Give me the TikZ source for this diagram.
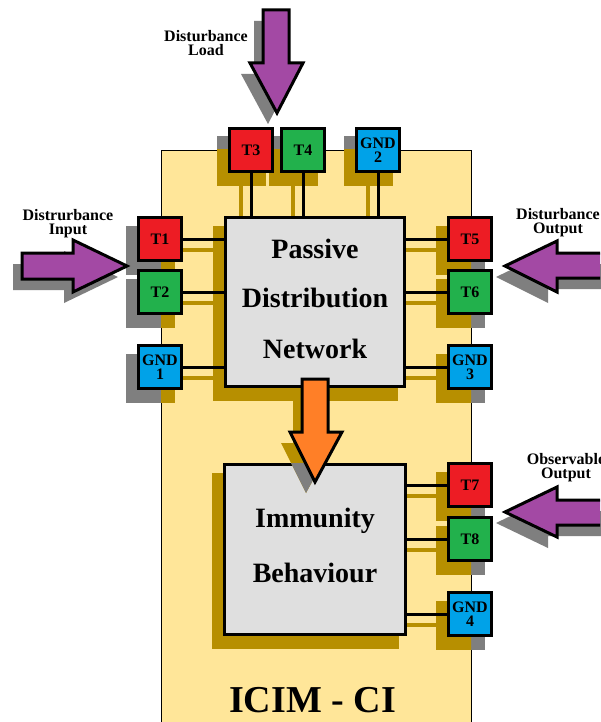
\documentclass[tikz,border=0pt]{standalone}
\usepackage{fontspec}
\setmainfont{Liberation Serif}
\usetikzlibrary{calc}
\pgfdeclarelayer{bg}\pgfdeclarelayer{shd}\pgfdeclarelayer{boxes}\pgfdeclarelayer{shdtwo}
\pgfsetlayers{bg,shd,boxes,shdtwo,main}
\definecolor{ybg}{HTML}{FFE699}
\definecolor{shgold}{HTML}{B78F00}
\definecolor{shgray}{HTML}{7F7F7F}
\definecolor{boxgray}{HTML}{DFDFDF}
\definecolor{tred}{HTML}{ED1C24}
\definecolor{tgreen}{HTML}{22B14C}
\definecolor{tblue}{HTML}{00A2E8}
\definecolor{apurple}{HTML}{A349A4}
\definecolor{aorange}{HTML}{FF7F27}
\begin{document}
\begin{tikzpicture}[x=1pt,y=-1pt,
  term/.style={draw=black, line width=3pt, minimum size=43pt, inner sep=0pt,
    font=\fontsize{16}{14}\selectfont\bfseries, align=center},
  bigbox/.style={draw=black, line width=3pt, fill=boxgray, inner sep=0pt},
  conn/.style={black, line width=3pt},
  connshd/.style={shgold, line width=4pt},
  bigtxt/.style={font=\fontsize{28}{34}\selectfont\bfseries, anchor=base, inner sep=0pt},
  lbl/.style={font=\fontsize{16}{14}\selectfont\bfseries, align=center, inner sep=0pt},
  arrowline/.style={draw=black, line width=3pt, line join=miter},
  ldarrow/.pic={\path[pic actions] (263,10) -- (289,10) -- (289,63) -- (303,63) -- (277,113) -- (250,63) -- (263,63) -- cycle;},
  inarrow/.pic={\path[pic actions] (22,253) -- (73,253) -- (73,240) -- (127,266) -- (73,292) -- (73,279) -- (22,279) -- cycle;},
  outarrow/.pic={\path[pic actions] (630,253) -- (557,253) -- (557,241) -- (505,266) -- (557,292) -- (557,278) -- (630,278) -- cycle;},
  obsarrow/.pic={\path[pic actions] (630,500) -- (557,500) -- (557,487) -- (505,512) -- (557,537) -- (557,525) -- (630,525) -- cycle;},
  orarrow/.pic={\path[pic actions] (302,379) -- (328,379) -- (328,432) -- (342,432) -- (315,482) -- (290,432) -- (302,432) -- cycle;}
]
\useasboundingbox (0,0) rectangle (600,722);
\clip (0,0) rectangle (600,722);
\begin{pgfonlayer}{bg}
  \fill[white] (0,0) rectangle (600,722);
  \fill[ybg, draw=black, line width=0.8pt] (161,150) rectangle (471,760);
\end{pgfonlayer}

% big boxes
\begin{pgfonlayer}{boxes}
  \node[bigbox, minimum width=179pt, minimum height=169pt] (PDN) at (315,302) {};
  \node[bigbox, minimum width=181pt, minimum height=170pt] (IB) at (315,549.5) {};
\end{pgfonlayer}

% terminals
\node[term, fill=tred]   (T1) at (160,239) {T1};
\node[term, fill=tgreen] (T2) at (160,292) {T2};
\node[term, fill=tblue]  (GND1) at (160,367) {GND\\1};
\node[term, fill=tred]   (T3) at (251,150) {T3};
\node[term, fill=tgreen] (T4) at (303,150) {T4};
\node[term, fill=tblue]  (GND2) at (378,150) {GND\\2};
\node[term, fill=tred]   (T5) at (470,239) {T5};
\node[term, fill=tgreen] (T6) at (470,292) {T6};
\node[term, fill=tblue]  (GND3) at (470,367) {GND\\3};
\node[term, fill=tred]   (T7) at (470,485) {T7};
\node[term, fill=tgreen] (T8) at (470,539) {T8};
\node[term, fill=tblue]  (GND4) at (470,614) {GND\\4};

% shadows
\begin{pgfonlayer}{shd}
  \foreach \n in {T1,T2,GND1,T3,T4,GND2,T5,T6,GND3,T7,T8,GND4,PDN,IB}{
    \filldraw[shgray, line width=3pt] ($(\n.south west)+(-10,11)$) rectangle ($(\n.north east)+(-10,11)$);
  }
  \begin{scope}
    \clip (161,150) rectangle (471,760);
    \foreach \n in {T1,T2,GND1,T3,T4,GND2,T5,T6,GND3,T7,T8,GND4,PDN,IB}{
      \filldraw[shgold, line width=3pt] ($(\n.south west)+(-10,11)$) rectangle ($(\n.north east)+(-10,11)$);
    }
  \end{scope}
  \foreach \n in {T1,T2,GND1}{
    \draw[connshd] ($(\n.east)+(-10,11)$) -- ($(\n.east -| PDN.west)+(-10,11)$);
  }
  \foreach \n in {T5,T6,GND3}{
    \draw[connshd] ($(\n.west)+(-10,11)$) -- ($(\n.west -| PDN.east)+(-10,11)$);
  }
  \foreach \n in {T3,T4,GND2}{
    \draw[connshd] ($(\n.south)+(-10,11)$) -- ($(\n.south |- PDN.north)+(-10,11)$);
  }
  \foreach \n in {T7,T8,GND4}{
    \draw[connshd] ($(\n.west)+(-10,11)$) -- ($(\n.west -| IB.east)+(-10,11)$);
  }
  \pic[fill=shgray] at (-9,11) {ldarrow};
  \pic[fill=shgray] at (-9,11) {inarrow};
  \pic[fill=shgray] at (-9,11) {outarrow};
  \pic[fill=shgray] at (-9,11) {obsarrow};
\end{pgfonlayer}

\begin{pgfonlayer}{shdtwo}
  \begin{scope}
    \clip (0,391) rectangle (600,722);
    \pic[fill=shgold] at (-9,11) {orarrow};
    \clip (IB.south west) rectangle (IB.north east);
    \pic[fill=shgray] at (-9,11) {orarrow};
  \end{scope}
\end{pgfonlayer}

% connectors
\foreach \n in {T1,T2,GND1}{ \draw[conn] (\n.east) -- (\n.east -| PDN.west); }
\foreach \n in {T5,T6,GND3}{ \draw[conn] (\n.west) -- (\n.west -| PDN.east); }
\foreach \n in {T3,T4,GND2}{ \draw[conn] (\n.south) -- (\n.south |- PDN.north); }
\foreach \n in {T7,T8,GND4}{ \draw[conn] (\n.west) -- (\n.west -| IB.east); }

% block arrows
\pic[arrowline, fill=aorange] at (0,0) {orarrow};
\pic[arrowline, fill=apurple] at (0,0) {ldarrow};
\pic[arrowline, fill=apurple] at (0,0) {inarrow};
\pic[arrowline, fill=apurple] at (0,0) {outarrow};
\pic[arrowline, fill=apurple] at (0,0) {obsarrow};

% texts
\node[bigtxt] (tP) at (315,258) {Passive};
\node[bigtxt] (tD) at (315,307) {Distribution};
\node[bigtxt] (tN) at (315,358) {Network};
\node[bigtxt] (tI) at (315,527) {Immunity};
\node[bigtxt] (tB) at (315,582) {Behaviour};
\node[font=\fontsize{38}{40}\selectfont\bfseries, anchor=base, inner sep=0pt] (tC) at (312.5,712) {ICIM - CI};

\node[lbl] (lLoad) at (206,43.5) {Disturbance\\Load};
\node[lbl] (lIn) at (68,224) {Distrurbance\\Input};
\node[lbl] (lOut) at (558,222.8) {Disturbance\\Output};
\node[lbl] (lObs) at (566,468) {Observable\\Output};
\end{tikzpicture}
\end{document}
